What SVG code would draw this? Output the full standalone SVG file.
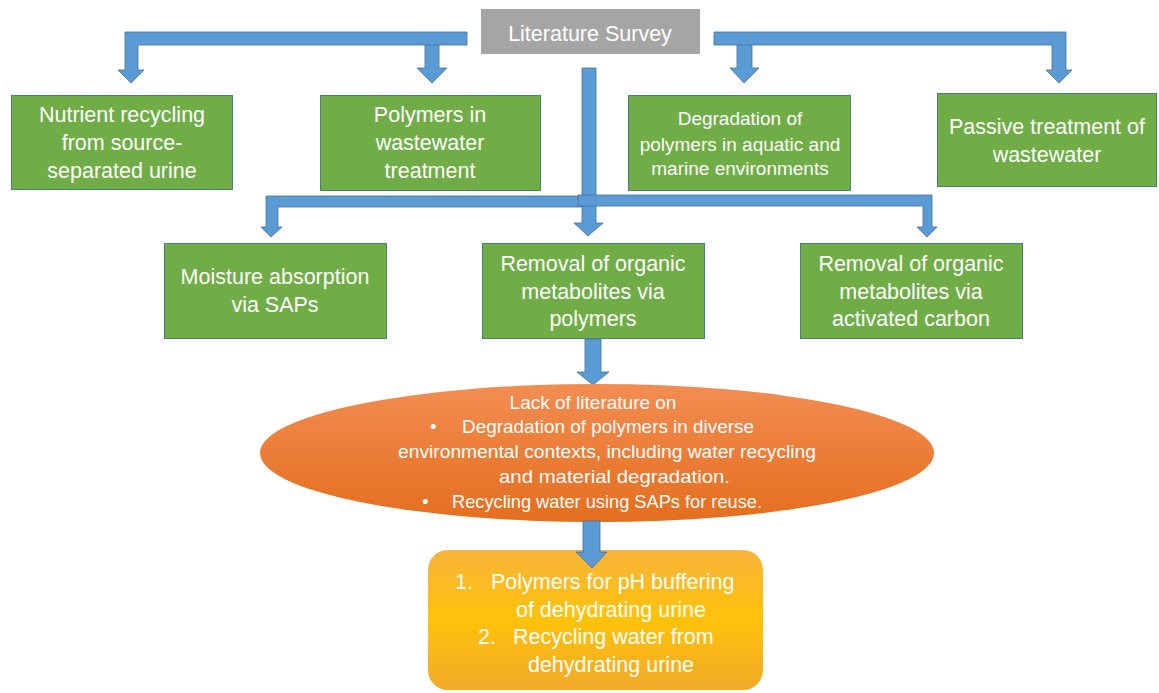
<svg xmlns="http://www.w3.org/2000/svg" width="1159" height="693" viewBox="0 0 1159 693">
  <defs>
    <linearGradient id="ovalFill" x1="0" y1="0" x2="0" y2="1">
      <stop offset="0" stop-color="#F28D52"/>
      <stop offset="1" stop-color="#E46E1E"/>
    </linearGradient>
    <linearGradient id="goldFill" x1="0" y1="0" x2="0" y2="1">
      <stop offset="0" stop-color="#F7B43A"/>
      <stop offset="0.5" stop-color="#FFC20A"/>
      <stop offset="1" stop-color="#F1A92A"/>
    </linearGradient>
    <style>
      .box { fill: #70AD47; stroke: #4D7F7A; stroke-width: 1; }
      .grey { fill: #A5A5A5; }
      .arrow { fill: #5B9BD5; stroke: #41719C; stroke-width: 0.8; stroke-linejoin: miter; }
      .t { font-family: "Liberation Sans", Arial, sans-serif; fill: #FFFFFF; }
      .c { text-anchor: middle; }
      .lg { font-size: 21.5px; }
      .md { font-size: 19px; }
    </style>
  </defs>

  <!-- connectors -->
  <g id="connectors">
    <!-- top-left branch -->
    <polygon class="arrow" points="425,40 439,40 439,68 447,68 432,83 417,68 425,68"/>
    <polygon class="arrow" points="467,32 125,32 125,70 118,70 131,83 144,70 138,70 138,45 467,45"/>
    <!-- top-right branch -->
    <polygon class="arrow" points="737,40 752,40 752,68 759,68 744,83 730,68 737,68"/>
    <polygon class="arrow" points="714,32 1066,32 1066,70 1072,70 1059,83 1046,70 1052,70 1052,45 714,45"/>
    <!-- central trunk -->
    <polygon class="arrow" points="582,68 596,68 596,223 603,223 588,236 574,223 582,223"/>
    <polygon class="arrow" points="582,196 266,196 266,227 261,227 271,237 282,227 278,227 278,207 582,207"/>
    <polygon class="arrow" points="578,195 932,195 932,227 937,227 927,237 917,227 923,227 923,206 578,206"/>
    <!-- to the oval -->
    <polygon class="arrow" points="585,339 601,339 601,372 609,372 593,385 577,372 585,372"/>
  </g>

  <g id="survey">
    <rect class="grey" x="481" y="9" width="219" height="45"/>
    <text class="t c lg" x="590" y="41">Literature Survey</text>
  </g>

  <g id="nutrient">
    <rect class="box" x="11.5" y="95.5" width="221" height="94"/>
    <text class="t c lg" x="122" y="122">Nutrient recycling</text>
    <text class="t c lg" x="122" y="150">from source-</text>
    <text class="t c lg" x="122" y="178">separated urine</text>
  </g>

  <g id="polymers-wastewater">
    <rect class="box" x="320.5" y="95.5" width="220" height="95"/>
    <text class="t c lg" x="430" y="122">Polymers in</text>
    <text class="t c lg" x="430" y="150">wastewater</text>
    <text class="t c lg" x="430" y="178">treatment</text>
  </g>

  <g id="degradation">
    <rect class="box" x="628.5" y="95.5" width="222" height="95"/>
    <text class="t c md" x="740" y="125">Degradation of</text>
    <text class="t c md" x="740" y="151">polymers in aquatic and</text>
    <text class="t c md" x="740" y="175">marine environments</text>
  </g>

  <g id="passive">
    <rect class="box" x="937.5" y="93.5" width="219" height="93"/>
    <text class="t c lg" x="1047" y="134">Passive treatment of</text>
    <text class="t c lg" x="1047" y="162">wastewater</text>
  </g>

  <g id="moisture">
    <rect class="box" x="164.5" y="243.5" width="222" height="95"/>
    <text class="t c lg" x="275" y="284">Moisture absorption</text>
    <text class="t c lg" x="275" y="312">via SAPs</text>
  </g>

  <g id="removal-polymers">
    <rect class="box" x="482.5" y="243.5" width="222" height="95"/>
    <text class="t c lg" x="593" y="271">Removal of organic</text>
    <text class="t c lg" x="593" y="299">metabolites via</text>
    <text class="t c lg" x="593" y="326">polymers</text>
  </g>

  <g id="removal-carbon">
    <rect class="box" x="800.5" y="243.5" width="222" height="95"/>
    <text class="t c lg" x="911" y="271">Removal of organic</text>
    <text class="t c lg" x="911" y="299">metabolites via</text>
    <text class="t c lg" x="911" y="326">activated carbon</text>
  </g>

  <g id="gap">
    <ellipse cx="597" cy="453" rx="337" ry="69" fill="url(#ovalFill)"/>
    <text class="t c md" x="593" y="409">Lack of literature on</text>
    <text class="t md" x="430" y="433">•</text>
    <text class="t md" x="462" y="433" textLength="292" lengthAdjust="spacingAndGlyphs">Degradation of polymers in diverse</text>
    <text class="t md" x="398" y="458" textLength="418" lengthAdjust="spacingAndGlyphs">environmental contexts, including water recycling</text>
    <text class="t md" x="499" y="483" textLength="231" lengthAdjust="spacingAndGlyphs">and material degradation.</text>
    <text class="t md" x="422" y="508">•</text>
    <text class="t md" x="452" y="508" textLength="310" lengthAdjust="spacingAndGlyphs">Recycling water using SAPs for reuse.</text>
  </g>

  <g id="outcome">
    <rect x="428" y="550" width="335" height="140" rx="20" ry="20" fill="url(#goldFill)"/>
    <text class="t lg" x="455" y="589">1.</text>
    <text class="t lg" x="491" y="589">Polymers for pH buffering</text>
    <text class="t c lg" x="611" y="617">of dehydrating urine</text>
    <text class="t lg" x="478" y="644">2.</text>
    <text class="t lg" x="513" y="644">Recycling water from</text>
    <text class="t c lg" x="611" y="672">dehydrating urine</text>
  </g>

  <!-- arrow from the oval into the outcome box -->
  <g id="connectors-lower">
    <polygon class="arrow" points="583,521 600,521 600,552 607,552 592,568 576,552 583,552"/>
  </g>
</svg>
